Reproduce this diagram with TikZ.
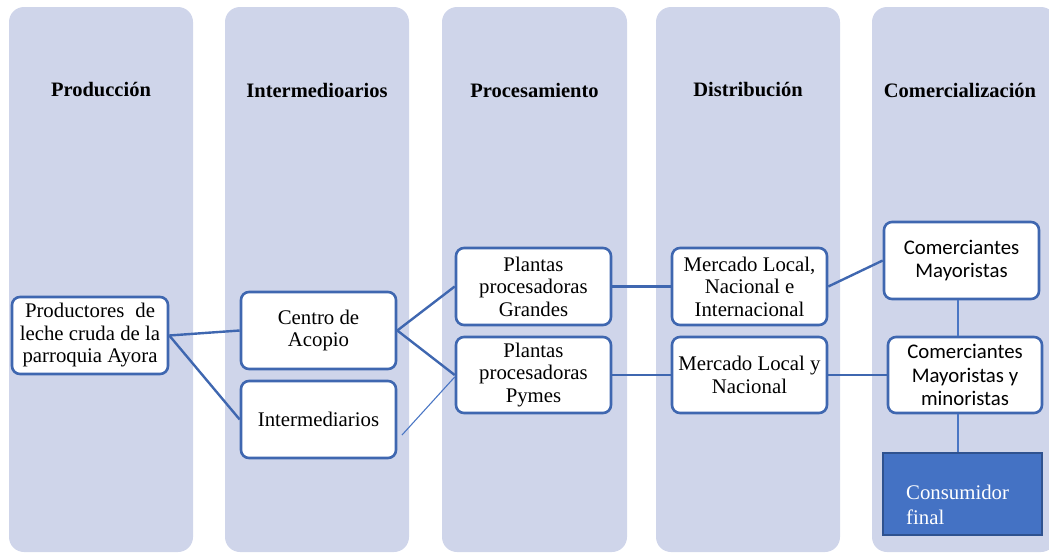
\documentclass[tikz,border=0pt]{standalone}
\usepackage{fontspec}
\setmainfont{Liberation Serif}
\newfontfamily\calfont{Carlito}
\definecolor{colfill}{HTML}{CFD5EA}
\definecolor{bl}{HTML}{3F67B0}
\definecolor{thinbl}{HTML}{4A76C4}
\definecolor{consfill}{HTML}{4472C4}
\definecolor{consdraw}{HTML}{2F528F}
\begin{document}
\begin{tikzpicture}[x=1pt,y=-1pt,
  colbox/.style={fill=colfill, rounded corners=15pt},
  head/.style={font=\fontsize{20.5}{23}\selectfont\bfseries, inner sep=0pt},
  box/.style={draw=bl, line width=2.6pt, rounded corners=8pt, fill=white, inner sep=0pt,
    minimum width=155pt, minimum height=77pt, align=center,
    font=\fontsize{20.8}{22.5}\selectfont},
  sbox/.style={box, font=\calfont\fontsize{20.8}{23.3}\selectfont},
  conn/.style={draw=bl, line width=2.4pt},
  thin/.style={draw=thinbl, line width=1.1pt}]
\useasboundingbox (0,0) rectangle (1049,554);
\begin{scope}
\clip (0,0) rectangle (1049,554);
\fill[colbox] (9,7) rectangle (193,552);
\fill[colbox] (225,7) rectangle (409,552);
\fill[colbox] (442,7) rectangle (627,552);
\fill[colbox] (656,7) rectangle (840,552);
\fill[colbox] (872,7) rectangle (1056,552);
\end{scope}
\node[head] (h1) at (101,90) {Producción};
\node[head] (h2) at (317,90) {Intermedioarios};
\node[head] (h3) at (534.5,90) {Procesamiento};
\node[head] (h4) at (748,90) {Distribución};
\node[head] (h5) at (960,90) {Comercialización};

\node[box, minimum width=156pt] (prod) at (90,335.5) {\makebox[130pt][s]{Productores de}\\leche cruda de la\\parroquia Ayora};
\node[box] (centro) at (318.5,330.5) {Centro de\\Acopio};
\node[box] (inter) at (318.5,419.5) {Intermediarios};
\node[box] (grandes) at (533.5,286.5) {Plantas\\procesadoras\\Grandes};
\node[box, minimum height=76pt] (pymes) at (533.5,375) {Plantas\\procesadoras\\Pymes};
\node[box] (merc1) at (749.5,286.5) {Mercado Local,\\Nacional e\\Internacional};
\node[box, minimum height=76pt] (merc2) at (749.5,375) {Mercado Local y\\Nacional};
\node[sbox] (commay) at (961.5,260.5) {Comerciantes\\Mayoristas};
\node[sbox, minimum width=154pt, minimum height=76pt] (commaymin) at (965,375) {Comerciantes\\Mayoristas y\\minoristas};
\node[draw=consdraw, fill=consfill, line width=2.6pt, minimum width=159pt, minimum height=82pt, inner sep=0pt] (cons) at (962.5,494) {};
\node[anchor=north west, inner sep=0pt, align=left, text=white, font=\fontsize{20.8}{25}\selectfont] (constext) at (906,485) {Consumidor\\final};

\coordinate (thinstart) at (402,435);

\draw[conn] (prod.east) -- (centro.west);
\draw[conn] (prod.east) -- (inter.west);
\draw[conn] (centro.east) -- (grandes.west);
\draw[conn] (centro.east) -- (pymes.west);
\draw[thin] (thinstart) -- ([yshift=-2pt]pymes.west);
\draw[conn] (grandes.east) -- (merc1.west);
\draw[conn] (pymes.east) -- (merc2.west);
\draw[conn] (merc1.east) -- (commay.west);
\draw[conn] (merc2.east) -- (commaymin.west);
\draw[thin] (commay.south -| 958,0) -- (commaymin.north -| 958,0);
\draw[thin] (commaymin.south -| 958,0) -- (cons.north -| 958,0);
\end{tikzpicture}
\end{document}
